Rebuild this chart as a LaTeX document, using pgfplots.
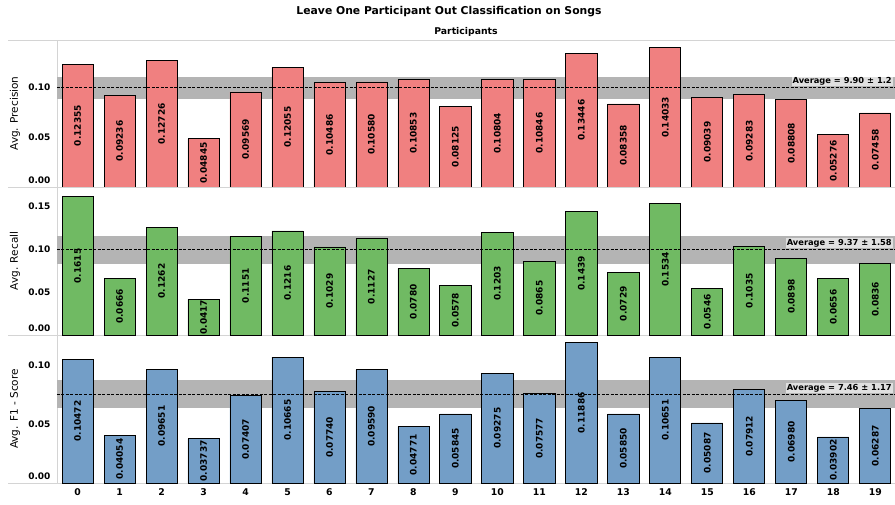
\documentclass[border=0pt]{standalone}
\usepackage{fontspec}
\setmainfont{DejaVu Sans}
\usepackage{pgfplots}
\usepackage{pgfplotstable}
\pgfplotsset{compat=1.18}

\definecolor{precred}{RGB}{240,128,128}
\definecolor{recgreen}{RGB}{112,186,99}
\definecolor{f1blue}{RGB}{115,158,199}
\definecolor{bandgray}{RGB}{180,180,180}
\definecolor{boxgray}{RGB}{224,224,224}
\definecolor{sepgray}{RGB}{212,212,212}

% avg. precision per left-out participant
\pgfplotstableread{
x y
0 0.12355
1 0.09236
2 0.12726
3 0.04845
4 0.09569
5 0.12055
6 0.10486
7 0.10580
8 0.10853
9 0.08125
10 0.10804
11 0.10846
12 0.13446
13 0.08358
14 0.14033
15 0.09039
16 0.09283
17 0.08808
18 0.05276
19 0.07458
}\precision

% avg. recall
\pgfplotstableread{
x y
0 0.1615
1 0.0666
2 0.1262
3 0.0417
4 0.1151
5 0.1216
6 0.1029
7 0.1127
8 0.0780
9 0.0578
10 0.1203
11 0.0865
12 0.1439
13 0.0729
14 0.1534
15 0.0546
16 0.1035
17 0.0898
18 0.0656
19 0.0836
}\recall

% avg. f1
\pgfplotstableread{
x y
0 0.10472
1 0.04054
2 0.09651
3 0.03737
4 0.07407
5 0.10665
6 0.07740
7 0.09590
8 0.04771
9 0.05845
10 0.09275
11 0.07577
12 0.11886
13 0.05850
14 0.10651
15 0.05087
16 0.07912
17 0.06980
18 0.03902
19 0.06287
}\fscore

\pgfplotsset{
  panel/.style={
    scale only axis,
    width=838pt,
    xmin=-0.49, xmax=19.47,
    ymin=0,
    axis line style={draw=none},
    major tick length=0pt,
    xtick=\empty,
    /pgf/number format/assume math mode=true,
    yticklabel style={font=\bfseries\fontsize{9}{10}\selectfont, xshift=-3pt},
    extra y ticks={0},
    extra y tick labels={0.00},
    extra y tick style={yticklabel style={yshift=7pt}},
    ylabel style={at={(axis description cs:-0.0501,0.5)}, anchor=center,
      font=\fontsize{10.5}{12}\selectfont},
  },
  bars/.style={ybar, bar width=0.74, bar shift=0pt, draw=black, line width=0.8pt, fill=#1},
  vals/.style={draw=none, nodes near coords, point meta=explicit symbolic,
    nodes near coords style={rotate=90, anchor=center,
      font=\bfseries\fontsize{9}{10}\selectfont}},
  avgline/.style={black, dash pattern=on 3pt off 1.5pt, line width=0.7pt},
}

\begin{document}
\begin{tikzpicture}
\path[use as bounding box] (0,0) rectangle (895pt,504pt);

\node[font=\bfseries\fontsize{10.8}{13}\selectfont] at (449pt,492pt)
  {Leave One Participant Out Classification on Songs};
\node[font=\bfseries\fontsize{9.3}{11}\selectfont] at (466pt,472pt) {Participants};

\foreach \yy in {464,317,169,21}
  \draw[sepgray, line width=0.8pt] (8pt,\yy pt) -- (895pt,\yy pt);
\draw[sepgray, line width=0.8pt] (57pt,21pt) -- (57pt,464pt);

% precision
\begin{axis}[panel, at={(57pt,317pt)}, height=147pt, ymax=0.148,
  ytick={0.05,0.1}, yticklabels={0.05,0.10},
  ylabel={Avg. Precision}]
\addplot[draw=none, fill=bandgray] coordinates {(-0.49,0.089) (19.47,0.089) (19.47,0.111) (-0.49,0.111)} -- cycle;
\addplot[bars=precred] table[x=x, y=y] {\precision};
\addplot[avgline] coordinates {(-0.49,0.100) (19.47,0.100)};
\addplot[vals] table[x=x, y expr=\thisrow{y}/2, meta=y] {\precision};
\node[anchor=south east, fill=boxgray, inner sep=1pt, yshift=1pt,
  font=\bfseries\fontsize{8.3}{10}\selectfont] at (axis cs:19.42,0.100) {Average = 9.90 ± 1.2};
\end{axis}

% recall
\begin{axis}[panel, at={(57pt,169pt)}, height=148pt, ymax=0.173,
  ytick={0.05,0.1,0.15}, yticklabels={0.05,0.10,0.15},
  ylabel={Avg. Recall}]
\addplot[draw=none, fill=bandgray] coordinates {(-0.49,0.0835) (19.47,0.0835) (19.47,0.1157) (-0.49,0.1157)} -- cycle;
\addplot[bars=recgreen] table[x=x, y=y] {\recall};
\addplot[avgline] coordinates {(-0.49,0.0998) (19.47,0.0998)};
\addplot[vals] table[x=x, y expr=\thisrow{y}/2, meta=y] {\recall};
\node[anchor=south east, fill=boxgray, inner sep=1pt, yshift=1pt,
  font=\bfseries\fontsize{8.3}{10}\selectfont] at (axis cs:19.42,0.0998) {Average = 9.37 ± 1.58};
\end{axis}

% f1
\begin{axis}[panel, at={(57pt,21pt)}, height=148pt, ymax=0.1253,
  ytick={0.05,0.1}, yticklabels={0.05,0.10},
  xtick={0,...,19},
  xticklabel style={font=\bfseries\fontsize{9.3}{10}\selectfont, yshift=-2pt},
  ylabel={Avg. F1 - Score}]
\addplot[draw=none, fill=bandgray] coordinates {(-0.49,0.0638) (19.47,0.0638) (19.47,0.0870) (-0.49,0.0870)} -- cycle;
\addplot[bars=f1blue] table[x=x, y=y] {\fscore};
\addplot[avgline] coordinates {(-0.49,0.0752) (19.47,0.0752)};
\addplot[vals] table[x=x, y expr=\thisrow{y}/2, meta=y] {\fscore};
\node[anchor=south east, fill=boxgray, inner sep=1pt, yshift=1pt,
  font=\bfseries\fontsize{8.3}{10}\selectfont] at (axis cs:19.42,0.0752) {Average = 7.46 ± 1.17};
\end{axis}
\end{tikzpicture}
\end{document}
